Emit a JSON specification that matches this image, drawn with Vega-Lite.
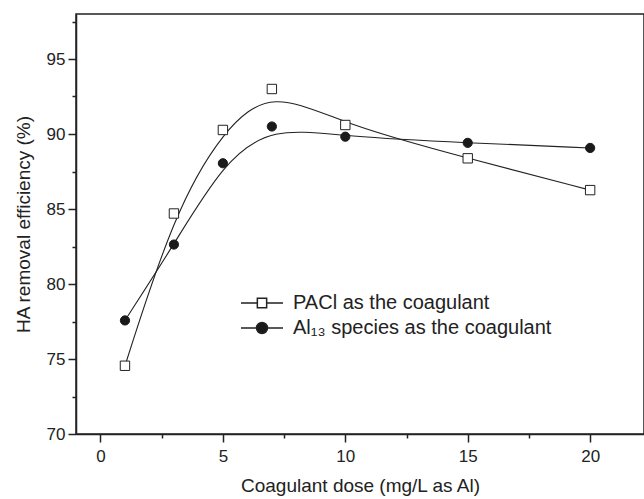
{
  "$schema": "https://vega.github.io/schema/vega-lite/v6.json",
  "width": 568,
  "height": 420,
  "autosize": {"type": "none"},
  "padding": {"left": 76, "top": 14, "right": 0, "bottom": 65},
  "background": "white",
  "config": {
    "view": {"stroke": "#222", "strokeWidth": 1.5},
    "axis": {
      "grid": false,
      "domainColor": "#222",
      "domainWidth": 1.5,
      "tickColor": "#222",
      "tickWidth": 1.5,
      "labelFont": "Liberation Sans",
      "labelFontSize": 17,
      "labelColor": "#222",
      "titleFont": "Liberation Sans",
      "titleFontSize": 19,
      "titleFontWeight": "normal",
      "titleColor": "#222"
    }
  },
  "data": {
    "values": [
      {"dose": 1, "eff": 74.55, "series": "PACl as the coagulant"},
      {"dose": 3, "eff": 84.7, "series": "PACl as the coagulant"},
      {"dose": 5, "eff": 90.27, "series": "PACl as the coagulant"},
      {"dose": 7, "eff": 93.0, "series": "PACl as the coagulant"},
      {"dose": 10, "eff": 90.6, "series": "PACl as the coagulant"},
      {"dose": 15, "eff": 88.38, "series": "PACl as the coagulant"},
      {"dose": 20, "eff": 86.26, "series": "PACl as the coagulant"},
      {"dose": 1, "eff": 77.57, "series": "Al₁₃ species as the coagulant"},
      {"dose": 3, "eff": 82.63, "series": "Al₁₃ species as the coagulant"},
      {"dose": 5, "eff": 88.05, "series": "Al₁₃ species as the coagulant"},
      {"dose": 7, "eff": 90.5, "series": "Al₁₃ species as the coagulant"},
      {"dose": 10, "eff": 89.82, "series": "Al₁₃ species as the coagulant"},
      {"dose": 15, "eff": 89.41, "series": "Al₁₃ species as the coagulant"},
      {"dose": 20, "eff": 89.07, "series": "Al₁₃ species as the coagulant"}
    ]
  },
  "resolve": {"axis": {"x": "independent", "y": "independent"}},
  "layer": [
    {
      "mark": {"type": "line", "interpolate": "basis", "color": "#222", "strokeWidth": 1.1},
      "encoding": {
        "x": {
          "field": "dose", "type": "quantitative",
          "scale": {"domain": [-1, 22.2], "nice": false, "zero": false},
          "axis": {"orient": "bottom", "values": [0, 5, 10, 15, 20], "title": "Coagulant dose (mg/L as Al)", "tickSize": 8, "labelPadding": 6, "titlePadding": 12}
        },
        "y": {
          "field": "eff", "type": "quantitative",
          "scale": {"domain": [70, 98], "nice": false, "zero": false},
          "axis": {"orient": "left", "values": [70, 75, 80, 85, 90, 95], "title": "HA removal efficiency (%)", "tickSize": 8, "labelPadding": 3, "titlePadding": 13}
        },
        "detail": {"field": "series"}
      }
    },
    {
      "transform": [{"filter": "datum.series === 'PACl as the coagulant'"}],
      "mark": {"type": "point", "shape": "square", "filled": true, "fill": "white", "stroke": "#222", "strokeWidth": 1, "opacity": 1, "size": 88},
      "encoding": {
        "x": {
          "field": "dose", "type": "quantitative",
          "axis": {"orient": "bottom", "values": [2.5, 7.5, 12.5, 17.5], "labels": false, "domain": false, "title": null, "tickSize": 4}
        },
        "y": {
          "field": "eff", "type": "quantitative",
          "axis": {"orient": "left", "values": [72.5, 77.5, 82.5, 87.5, 92.5, 97.5], "labels": false, "domain": false, "title": null, "tickSize": 4}
        }
      }
    },
    {
      "transform": [{"filter": "datum.series !== 'PACl as the coagulant'"}],
      "mark": {"type": "point", "shape": "circle", "filled": true, "fill": "#1a1a1a", "stroke": "#1a1a1a", "strokeWidth": 1, "opacity": 1, "size": 85},
      "encoding": {
        "x": {"field": "dose", "type": "quantitative", "axis": null},
        "y": {"field": "eff", "type": "quantitative", "axis": null}
      }
    },
    {
      "transform": [{"filter": "datum.dose < 0"}],
      "mark": {"type": "point", "filled": true, "stroke": "#222", "strokeWidth": 1, "opacity": 1, "size": 100},
      "encoding": {
        "x": {"field": "dose", "type": "quantitative", "axis": null},
        "y": {"field": "eff", "type": "quantitative", "axis": null},
        "fill": {
          "field": "series", "type": "nominal",
          "scale": {"domain": ["PACl as the coagulant", "Al₁₃ species as the coagulant"], "range": ["white", "#1a1a1a"]},
          "legend": {
            "title": null, "orient": "none", "legendX": 176, "legendY": 279,
            "labelFont": "Liberation Sans", "labelFontSize": 20, "labelColor": "#222", "labelOffset": 21, "labelLimit": 500, "rowPadding": 5
          }
        },
        "shape": {
          "field": "series", "type": "nominal",
          "scale": {"domain": ["PACl as the coagulant", "Al₁₃ species as the coagulant"], "range": ["M-4.2,0H-0.93M0.93,0H4.2M-0.93,-0.93H0.93V0.93H-0.93Z", "M-4.2,0H-1.1M1.1,0H4.2M1.1,0A1.1,1.1,0,1,1,-1.1,0A1.1,1.1,0,1,1,1.1,0Z"]},
          "legend": {
            "title": null, "orient": "none", "legendX": 176, "legendY": 279,
            "labelFont": "Liberation Sans", "labelFontSize": 20, "labelColor": "#222", "labelOffset": 21, "labelLimit": 500, "rowPadding": 5
          }
        }
      }
    }
  ]
}
